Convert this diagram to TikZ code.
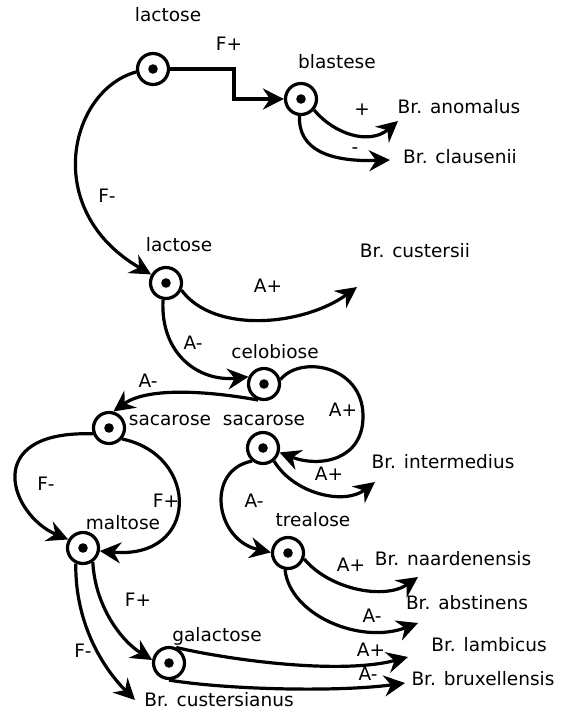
\documentclass[tikz,border=0pt]{standalone}
\usepackage{fontspec}
\setmainfont{DejaVu Sans}
\usetikzlibrary{arrows.meta}
\tikzset{
  station/.style={circle, draw, line width=3.2pt, minimum size=31pt, inner sep=0pt, fill=white,
    path picture={\fill[black] (path picture bounding box.center) circle (4.8pt);}},
  lbl/.style={text height=0.75em, text depth=0pt, inner sep=0pt, font=\fontsize{18.5}{20}\selectfont},
  arr/.style={line width=3.2pt, -{Stealth[length=21pt, width=21pt, inset=7pt]}},
}
\begin{document}
\begin{tikzpicture}[x=1pt,y=-1pt]
\useasboundingbox (0,0) rectangle (561,718);
% stations
\node[station] (lac1) at (153,69) {};
\node[station] (bla) at (301,99) {};
\node[station] (lac2) at (166,283) {};
\node[station] (cel) at (264,384) {};
\node[station] (sacL) at (109,428) {};
\node[station] (sacR) at (263,448) {};
\node[station] (mal) at (83,548) {};
\node[station] (tre) at (288,553) {};
\node[station] (gal) at (169,663) {};
% labels
\node[lbl] (t1) at (168,18) {lactose};
\node[lbl] (t2) at (229,47) {F+};
\node[lbl] (t3) at (337,65) {blastese};
\node[lbl] (t4) at (362,112) {+};
\node[lbl] (t5) at (355,150) {-};
\node[lbl] (t6) at (459,110) {Br. anomalus};
\node[lbl] (t7) at (460,160) {Br. clausenii};
\node[lbl] (t8) at (107,199) {F-};
\node[lbl] (t9) at (179,248) {lactose};
\node[lbl] (t10) at (268,289) {A+};
\node[lbl] (t11) at (415,254) {Br. custersii};
\node[lbl] (t12) at (193,346) {A-};
\node[lbl] (t13) at (275,355) {celobiose};
\node[lbl] (t14) at (148,384) {A-};
\node[lbl] (t15) at (170,422) {sacarose};
\node[lbl] (t16) at (264,422) {sacarose};
\node[lbl] (t17) at (343,413) {A+};
\node[lbl] (t18) at (443,465) {Br. intermedius};
\node[lbl] (t19) at (329,477) {A+};
\node[lbl] (t20) at (254,504) {A-};
\node[lbl] (t21) at (313,523) {trealose};
\node[lbl] (t22) at (46,487) {F-};
\node[lbl] (t23) at (166,504) {F+};
\node[lbl] (t24) at (123,526) {maltose};
\node[lbl] (t25) at (351,568) {A+};
\node[lbl] (t26) at (453,562) {Br. naardenensis};
\node[lbl] (t27) at (467,606) {Br. abstinens};
\node[lbl] (t28) at (372,619) {A-};
\node[lbl] (t29) at (489,648) {Br. lambicus};
\node[lbl] (t30) at (371,653) {A+};
\node[lbl] (t31) at (368,677) {A-};
\node[lbl] (t32) at (483,682) {Br. bruxellensis};
\node[lbl] (t33) at (138,603) {F+};
\node[lbl] (t34) at (83,654) {F-};
\node[lbl] (t35) at (217,638) {galactose};
\node[lbl] (t36) at (219,703) {Br. custersianus};
% free ends
\coordinate (k1) at (234,84);
\coordinate (eAno) at (398,121);
\coordinate (eCla) at (390,160);
\coordinate (eCus) at (357,287);
\coordinate (eInt) at (375,482);
\coordinate (eNaa) at (418,577);
\coordinate (eAbs) at (418,623);
\coordinate (eLam) at (408,657);
\coordinate (eBru) at (405,683);
\coordinate (eCsn) at (135,700);
\coordinate (loopR) at (363,415);
% connectors
\draw[arr] (lac1.east) -| (k1) |- (bla.west);
\draw[arr] (lac1.190) .. controls (70,90) and (40,210) .. (lac2.150);
\draw[arr] (bla.-40) .. controls (335,135) and (370,145) .. (eAno);
\draw[arr] (bla.-95) .. controls (298,150) and (330,162) .. (eCla);
\draw[arr] (lac2.-25) .. controls (215,335) and (305,325) .. (eCus);
\draw[arr] (lac2.-100) .. controls (160,355) and (200,382) .. (cel.155);
\draw[arr] (cel.-110) .. controls (220,393) and (150,385) .. (sacL.75);
\draw[arr] (cel.15) .. controls (300,355) and (362,365) .. (loopR) .. controls (364,460) and (320,468) .. (sacR.-15);
\draw[arr] (sacR.-50) .. controls (295,495) and (345,505) .. (eInt);
\draw[arr] (sacR.-130) .. controls (205,470) and (215,540) .. (tre.178);
\draw[arr] (tre.-20) .. controls (330,590) and (385,600) .. (eNaa);
\draw[arr] (tre.-100) .. controls (290,615) and (360,645) .. (eAbs);
\draw[arr] (sacL.200) .. controls (-20,430) and (10,515) .. (mal.150);
\draw[arr] (sacL.-40) .. controls (200,455) and (200,560) .. (mal.-10);
\draw[arr] (mal.-55) .. controls (95,605) and (120,640) .. (gal.170);
\draw[arr] (mal.-115) .. controls (75,620) and (100,665) .. (eCsn);
\draw[arr] (gal.65) .. controls (230,660) and (340,675) .. (eLam);
\draw[arr] (gal.-90) .. controls (230,690) and (340,692) .. (eBru);
\end{tikzpicture}
\end{document}
